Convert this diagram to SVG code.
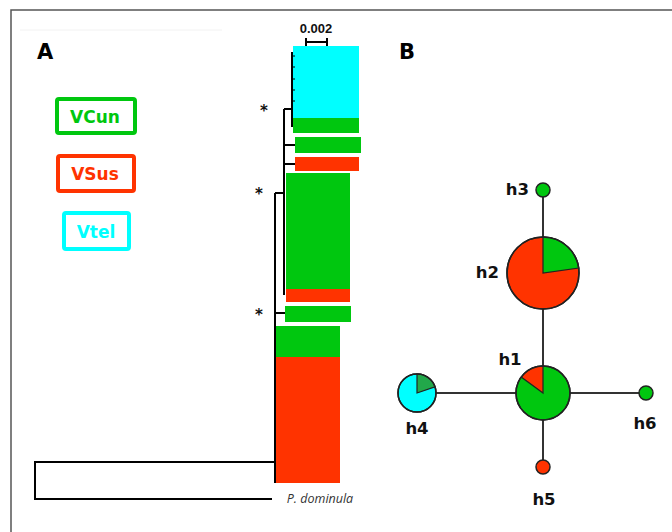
<svg xmlns="http://www.w3.org/2000/svg" width="672" height="532" viewBox="0 0 672 532">
<style>
.g{fill:#00c70f}.r{fill:#ff3300}.c{fill:#00ffff}
.br{stroke:#000;stroke-width:2;fill:none}
.lab{font-family:"DejaVu Sans",Verdana,sans-serif;font-weight:bold;font-size:16.5px;fill:#111}
.pan{font-family:"DejaVu Sans",Verdana,sans-serif;font-weight:bold;font-size:21px;fill:#000}
.leg{font-family:"DejaVu Sans",Verdana,sans-serif;font-weight:bold;font-size:17px;text-anchor:middle}
.edge{stroke:#333;stroke-width:2;fill:none}
.node{stroke:#222;stroke-width:1.5}
.ast{font-family:"DejaVu Sans",sans-serif;font-weight:bold;font-size:15px;fill:#111;text-anchor:middle}
</style>
<rect width="672" height="532" fill="#fff"/>
<path d="M11 532V10H672" stroke="#555" stroke-width="1.5" fill="none"/>
<line x1="20" y1="30" x2="222" y2="30" stroke="#f2f2f2" stroke-width="1"/>
<text class="pan" x="37" y="59">A</text>
<text class="pan" x="399" y="59">B</text>
<g id="legend">
<g id="leg-vcun"><rect x="57" y="99" width="78" height="34" rx="2" fill="none" stroke="#00c70f" stroke-width="4"/><text class="leg" x="95" y="123" fill="#00c70f">VCun</text></g>
<g id="leg-vsus"><rect x="58" y="156" width="76" height="35" rx="2" fill="none" stroke="#ff3300" stroke-width="4"/><text class="leg" x="95" y="180" fill="#ff3300">VSus</text></g>
<g id="leg-vtel"><rect x="64" y="213" width="65" height="36" rx="2" fill="none" stroke="#00ffff" stroke-width="4"/><text class="leg" x="96" y="238" fill="#00ffff">Vtel</text></g>
</g>
<g id="tree">
<g id="scale">
<text x="316" y="33" font-family="Liberation Sans,Arial,sans-serif" font-weight="bold" font-size="13" text-anchor="middle" fill="#111">0.002</text>
<path d="M306 42H327M306 38V46M327 38V46" stroke="#000" stroke-width="2" fill="none"/>
</g>
<g id="bars">
<rect class="c" x="293" y="46" width="66" height="72"/>
<rect class="g" x="293" y="118" width="66" height="15"/>
<rect class="g" x="295" y="137" width="66" height="16"/>
<rect class="r" x="295" y="157" width="64" height="14"/>
<rect class="g" x="286" y="173" width="64" height="116"/>
<rect class="r" x="286" y="289" width="64" height="13"/>
<rect class="g" x="285" y="306" width="66" height="16"/>
<rect class="g" x="275" y="326" width="65" height="31"/>
<rect class="r" x="275" y="357" width="65" height="126"/>
</g>
<g id="branches">
<path class="br" d="M292 52V127M284 109H292M284 109V295M284 145H295M284 164H295M275 193H284M275 193V483M275 313H285"/>
<path d="M292 56h3M292 67h3M292 79h3M292 90h3M292 101h3" stroke="#000" stroke-width="1"/>
<path class="br" d="M275 462H35V499H272"/>
</g>
<text class="ast" x="264" y="116">*</text>
<text class="ast" x="259" y="199">*</text>
<text class="ast" x="259" y="320">*</text>
<text x="320" y="503" font-family="Open Sans,DejaVu Sans,sans-serif" font-style="italic" font-size="12.5" text-anchor="middle" fill="#333">P. dominula</text>
</g>
<g id="connectors">
<line class="edge" x1="543" y1="190" x2="543" y2="393"/>
<line class="edge" x1="417" y1="393" x2="646" y2="393"/>
<line class="edge" x1="543" y1="393" x2="543" y2="467"/>
</g>
<g id="h3"><circle class="node g" cx="543" cy="190" r="7"/><text class="lab" x="529" y="195" text-anchor="end">h3</text></g>
<g id="h2">
<circle class="node r" cx="543" cy="273" r="36"/>
<path d="M543 273V237A36 36 0 0 1 578.6 268Z" class="g" stroke="#222" stroke-width="1.2"/>
<circle cx="543" cy="273" r="36" fill="none" stroke="#222" stroke-width="1.5"/>
<text class="lab" x="499" y="278" text-anchor="end">h2</text>
</g>
<g id="h1">
<circle class="node g" cx="543" cy="393" r="27"/>
<path d="M543 393V366A27 27 0 0 0 521.2 377.1Z" class="r" stroke="#222" stroke-width="1.2"/>
<circle cx="543" cy="393" r="27" fill="none" stroke="#222" stroke-width="1.5"/>
<text class="lab" x="510" y="365" text-anchor="middle">h1</text>
</g>
<g id="h4">
<circle class="node c" cx="417" cy="393" r="19"/>
<path d="M417 393V374A19 19 0 0 1 435 386.9Z" fill="#22a84a" stroke="#222" stroke-width="1.2"/>
<circle cx="417" cy="393" r="19" fill="none" stroke="#222" stroke-width="1.5"/>
<text class="lab" x="417" y="434" text-anchor="middle">h4</text>
</g>
<g id="h6"><circle class="node g" cx="646" cy="393" r="7"/><text class="lab" x="645" y="429" text-anchor="middle">h6</text></g>
<g id="h5"><circle class="node r" cx="543" cy="467" r="7"/><text class="lab" x="544" y="505" text-anchor="middle">h5</text></g>
</svg>
